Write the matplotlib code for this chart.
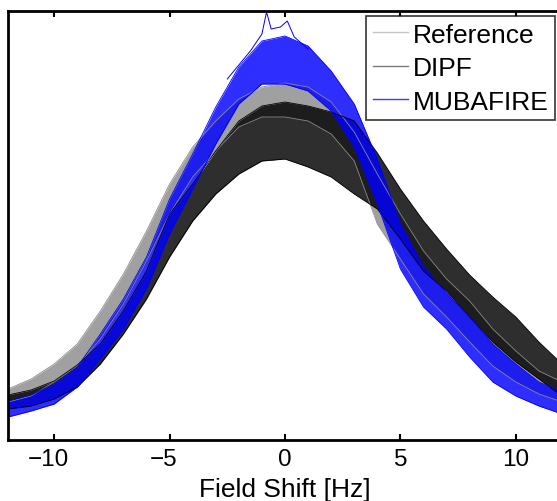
import matplotlib
matplotlib.use("Agg")
import matplotlib.pyplot as plt
from matplotlib.lines import Line2D
from matplotlib.transforms import ScaledTranslation

plt.rcParams['font.family'] = ['Liberation Sans', 'DejaVu Sans']

# Field shift grid [Hz]
field_shift = list(range(-12, 13))

# Envelopes (upper / lower) of the histogram bundles, arbitrary units
ref_upper = [51, 61, 76, 96, 129, 166, 209, 256, 293, 319, 341, 353, 357, 353, 338, 308, 266, 226, 189, 161, 139, 111, 89, 69, 58]
ref_lower = [38, 44, 58, 74, 101, 136, 179, 226, 263, 289, 313, 323, 323, 319, 306, 279, 216, 181, 146, 123, 98, 74, 58, 46, 38]

dipf_upper = [45, 50, 59, 75, 96, 129, 169, 226, 256, 289, 319, 334, 338, 334, 328, 319, 287, 251, 219, 191, 165, 143, 123, 98, 76]
dipf_lower = [31, 34, 41, 53, 76, 106, 141, 183, 219, 246, 266, 279, 281, 273, 263, 246, 231, 201, 169, 149, 123, 98, 78, 61, 44]

mub_upper = [39, 45, 56, 73, 106, 141, 183, 241, 286, 333, 373, 399, 404, 394, 369, 336, 281, 216, 173, 147, 123, 96, 76, 58, 48]
mub_lower = [23, 29, 36, 53, 81, 111, 151, 206, 251, 296, 336, 356, 356, 349, 329, 293, 236, 171, 133, 111, 83, 58, 44, 34, 26]

# Highest single MUBAFIRE trace near the peak
mub_peak_x = [-2.5, -1.5, -1.0, -0.8, -0.6, -0.2, 0.1, 0.4, 1.0]
mub_peak_y = [361, 389, 406, 428, 411, 413, 419, 403, 391]

labels = ["Reference", "DIPF", "MUBAFIRE"]
xticks = [-10, -5, 0, 5, 10]

fig = plt.figure(figsize=(5.57, 5.02), dpi=100)
ax = fig.add_axes([8/557, 61/502, 554/557, 429/502])

groups = [
    (ref_upper, ref_lower, "#a0a0a0", 1.0, "#8a8a8a"),
    (dipf_upper, dipf_lower, "#000000", 0.82, "#000000"),
    (mub_upper, mub_lower, "#0000ff", 0.82, "#0000ff"),
]
for up, lo, fc, a, lc in groups:
    ax.fill_between(field_shift, lo, up, color=fc, lw=0, alpha=a)
    ax.plot(field_shift, up, color=lc, lw=0.6)
    ax.plot(field_shift, lo, color=lc, lw=0.6)

ax.plot(mub_peak_x, mub_peak_y, color="#0000ff", lw=0.7)

ax.set_xlim(-12, 12)
ax.set_ylim(0, 429)
ax.set_xticks(xticks)
ax.set_xticklabels([f"\u2212{abs(t)}" if t < 0 else str(t) for t in xticks])
ax.set_yticks([])
ax.tick_params(axis='x', direction='in', length=4, width=1.5, top=True,
               labelsize=17.5, pad=6)
for t, lab in zip(xticks, ax.get_xticklabels()):
    if t < 0:
        lab.set_transform(lab.get_transform() + ScaledTranslation(-6/100, 0, fig.dpi_scale_trans))
for s in ax.spines.values():
    s.set_linewidth(2)
ax.set_xlabel("Field Shift [Hz]", fontsize=19, labelpad=5)

handles = [Line2D([], [], color="#c4c4c4", lw=1),
           Line2D([], [], color="#7a7a7a", lw=1),
           Line2D([], [], color="#3c3cff", lw=1)]
leg = ax.legend(handles, labels, loc="upper right", bbox_to_anchor=(547/554, 424/429),
                fontsize=19, frameon=True, fancybox=False, edgecolor="black",
                handlelength=1.35, handletextpad=0.16, borderpad=0.25,
                labelspacing=0.36, borderaxespad=0)
leg.get_frame().set_linewidth(1.2)

fig.savefig("out.png", dpi=100)
